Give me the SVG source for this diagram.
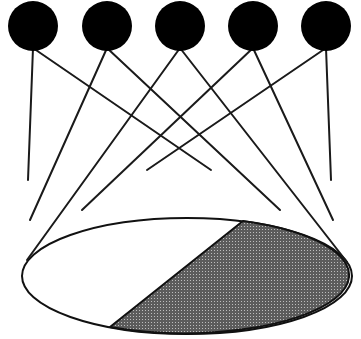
<svg xmlns="http://www.w3.org/2000/svg" width="361" height="339" viewBox="0 0 361 339">
<style>
.node{fill:#000;stroke:none}
.edge{stroke:#1a1a1a;stroke-width:2;fill:none;stroke-linecap:round}
.ell{fill:#fff;stroke:#111;stroke-width:2}
.shade{fill:url(#dots);stroke:#111;stroke-width:2;stroke-linejoin:round}
</style>
<defs>
<pattern id="dots" width="3" height="3" patternUnits="userSpaceOnUse">
<rect width="3" height="3" fill="#5c5c5c"/>
<rect x="1" y="1" width="1" height="1" fill="#bdbdbd"/>
</pattern>
</defs>
<rect width="361" height="339" fill="#fff"/>
<g id="base">
<ellipse class="ell" cx="187" cy="276" rx="165" ry="58"/>
<path class="shade" d="M243 221 A165 58 0 1 1 110 327 Z"/>
</g>
<g id="connectors">
<line class="edge" x1="33" y1="48" x2="28" y2="180"/>
<line class="edge" x1="33" y1="48" x2="211" y2="170"/>
<line class="edge" x1="107" y1="48" x2="30" y2="220"/>
<line class="edge" x1="107" y1="48" x2="280" y2="210"/>
<line class="edge" x1="180" y1="48" x2="27" y2="260"/>
<line class="edge" x1="180" y1="48" x2="347" y2="262"/>
<line class="edge" x1="253" y1="48" x2="82" y2="210"/>
<line class="edge" x1="253" y1="48" x2="333" y2="220"/>
<line class="edge" x1="326" y1="48" x2="331" y2="180"/>
<line class="edge" x1="326" y1="48" x2="147" y2="170"/>
</g>
<g id="n1"><circle class="node" cx="33" cy="26" r="25"/></g>
<g id="n2"><circle class="node" cx="107" cy="26" r="25"/></g>
<g id="n3"><circle class="node" cx="180" cy="26" r="25"/></g>
<g id="n4"><circle class="node" cx="253" cy="26" r="25"/></g>
<g id="n5"><circle class="node" cx="326" cy="26" r="25"/></g>
</svg>
